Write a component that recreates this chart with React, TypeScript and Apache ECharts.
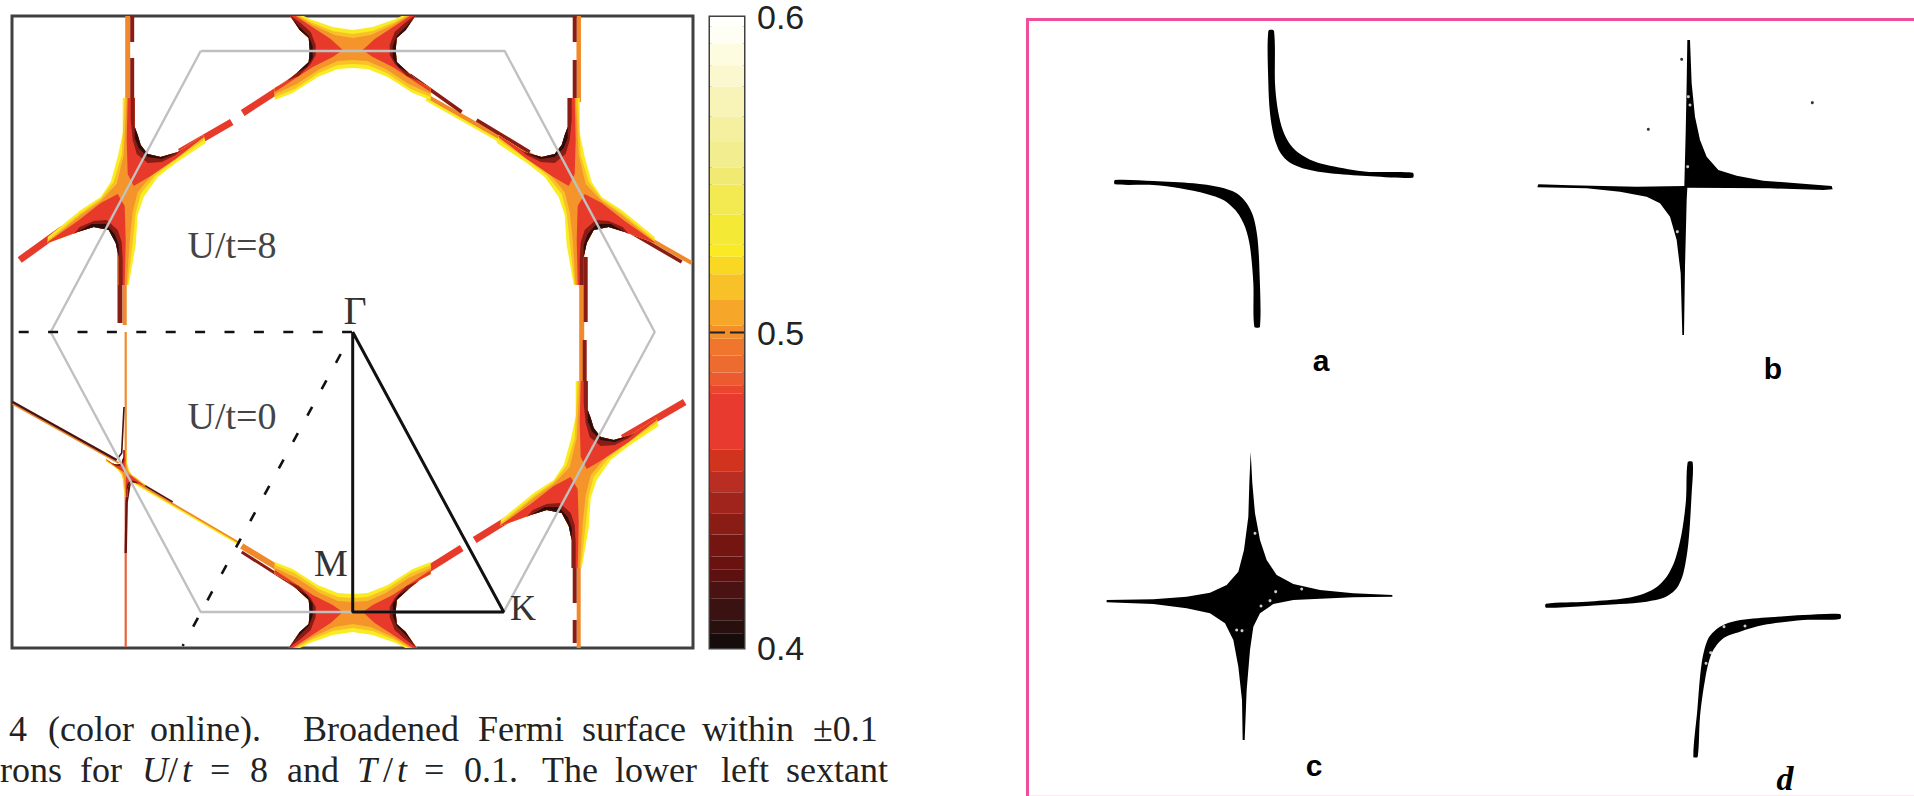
import React, { useEffect, useLayoutEffect, useRef } from "react";
import * as echarts from "echarts";

type Pt = number[];
const YEL = "#f9ec22", GOLD = "#f8c128", ORG = "#f4942b", RED = "#e83a2a", DRK = "#8a1c16", BLK = "#2b0d0d";

// ---- colour scale levels: [lower edge, colour]
const barLevels: [number, string][] = [
  [0.4, "#170c0c"], [0.4047, "#2a0f0f"], [0.4088, "#3a1212"], [0.4156, "#4a1212"], [0.421, "#5c1010"],
  [0.425, "#6a1210"], [0.429, "#751512"], [0.436, "#8a1c16"], [0.4427, "#a0241c"], [0.4494, "#b92d22"],
  [0.456, "#d2331f"], [0.463, "#e93a30"], [0.4806, "#ea452f"], [0.4833, "#ec5b30"], [0.4873, "#ee6b30"],
  [0.4927, "#f0762e"], [0.498, "#f38f2b"], [0.5022, "#f6a72a"], [0.5103, "#f8c128"], [0.5185, "#f9d824"],
  [0.524, "#f9ea23"], [0.528, "#f4ea35"], [0.5374, "#f2ea50"], [0.5469, "#f1ea72"], [0.5523, "#f2ee90"],
  [0.5604, "#f5f0a0"], [0.5685, "#f8f4b8"], [0.578, "#fbf8d0"], [0.5847, "#fdfbe0"], [0.5915, "#fffef4"],
  [0.597, "#fffffb"],
];
const barTicks = [0.4, 0.5, 0.6];

// ---- k-space outlines (origin at Gamma)
const hexagon: Pt[] = [[-152, 281], [152, 281], [302, 0], [151, -280], [-152, -280], [-302, 0], [-152, 281]];
const wedgeSolid: Pt[] = [[0, 0], [0, -280], [151, -280], [0, 0]];
const dashedH: Pt[] = [[-334, 0], [0, 0]];
const dashedD: Pt[] = [[-12, -22], [-170, -314]];

// ---- blob at the zone-edge crossings (four-armed, tilted)
const crossYellow: Pt[] = [[-3, 92], [9, 92], [9, 63], [12, 55], [15, 45], [22, 36], [35, 33], [52, 38], [78, 55], [80, 47], [50, 27], [32, 13], [18, -7], [12, -25], [10, -55], [3, -95], [-7, -95], [-7, -67], [-10, -53], [-17, -40], [-32, -37], [-48, -42], [-78, -53], [-78, -47], [-45, -20], [-25, -7], [-15, 8], [-8, 33], [-3, 57]];
const crossGold: Pt[] = [[-1, 92], [9, 92], [9, 63], [12, 55], [15, 45], [22, 36], [35, 33], [52, 38], [78, 55], [78, 50], [48, 29], [30, 15], [15, -4], [10, -23], [7, -52], [2, -95], [-7, -95], [-7, -67], [-10, -53], [-17, -40], [-32, -37], [-48, -42], [-78, -53], [-78, -50], [-45, -23], [-25, -9], [-12, 8], [-4, 35]];
const crossOrange: Pt[] = [[1, 92], [9, 92], [9, 63], [12, 55], [15, 45], [22, 36], [35, 33], [52, 38], [78, 55], [78, 52], [46, 31], [28, 17], [12, -2], [7, -22], [4, -50], [1, -95], [-7, -95], [-7, -67], [-10, -53], [-17, -40], [-32, -37], [-48, -42], [-78, -53], [-78, -52], [-45, -25], [-25, -11], [-9, 6], [-2, 35]];
const crossRedA: Pt[] = [[2, 92], [9, 92], [9, 63], [12, 55], [15, 45], [22, 36], [35, 33], [52, 38], [78, 55], [78, 53], [50, 31], [25, 14], [8, 4], [2, 16], [1, 50]];
const crossRedB: Pt[] = [[-1, -95], [-7, -95], [-7, -67], [-10, -53], [-17, -40], [-32, -37], [-48, -42], [-78, -53], [-78, -52], [-48, -31], [-25, -13], [-8, -4], [-1, -16], [0, -50]];
const crossDarkA: Pt[] = [[5, 92], [9, 92], [9, 63], [12, 55], [15, 45], [22, 36], [35, 33], [52, 38], [56, 40], [50, 35], [36, 28], [22, 27], [11, 36], [7, 50], [5, 70]];
const crossDarkB: Pt[] = [[-3, -95], [-7, -95], [-7, -67], [-10, -53], [-17, -40], [-32, -37], [-48, -42], [-52, -44], [-46, -37], [-32, -31], [-19, -30], [-8, -40], [-4, -52], [-3, -70]];
const crossRimA: Pt[] = [[9, 63], [12, 55], [15, 45], [22, 36], [35, 33], [50, 37], [36, 31], [22, 33], [13, 42], [9, 52]];
const crossRimB: Pt[] = [[-7, -67], [-10, -53], [-17, -40], [-32, -37], [-48, -42], [-34, -34], [-20, -34], [-11, -44], [-7, -55]];

// ---- blob at the M points: right halves, upper edge then the notch then lower edge
const vanNotch: Pt[] = [[64, 36], [53, 20], [44, 12], [43, 0], [44, -12], [56, -23], [67, -32], [78, -38]];
const vanYellowR: Pt[] = [[0, 20], [20, 23], [43, 31], [72, 46], ...vanNotch, [78, -50], [60, -43], [35, -27], [15, -19], [0, -18]];
const vanGoldR: Pt[] = [[0, 16], [20, 19], [42, 28], [70, 44], ...vanNotch, [78, -47], [58, -39], [34, -23], [15, -15], [0, -14]];
const vanOrangeR: Pt[] = [[0, 12], [18, 15], [40, 25], [68, 42], ...vanNotch, [78, -44], [56, -34], [33, -19], [15, -11], [0, -10]];
const vanRedR: Pt[] = [[10, 0], [22, 11], [42, 24], [66, 40], ...vanNotch, [78, -42], [40, -17], [20, -7]];
const vanDarkR: Pt[] = [[64, 36], [53, 20], [44, 12], [43, 0], [44, -12], [56, -23], [66, -31], [54, -26], [42, -14], [37, -5], [37, 5], [42, 18], [52, 27]];
const vanRimR: Pt[] = [[60, 31], [53, 20], [44, 12], [43, 0], [44, -12], [56, -23], [46, -17], [40, -8], [40, 4], [44, 14], [54, 24]];

const mirrorWhole = (half: Pt[]): Pt[] => [...half, ...half.slice(1, -1).reverse().map(([x, y]) => [-x, y])];
const flipX = (pts: Pt[]): Pt[] => pts.map(([x, y]) => [-x, y]);

const crossLayers: [Pt[], string][] = [[crossYellow, YEL], [crossGold, GOLD], [crossOrange, ORG], [crossRedA, RED], [crossRedB, RED], [crossDarkA, DRK], [crossDarkB, DRK], [crossRimA, BLK], [crossRimB, BLK]];
const vanLayers: [Pt[], string][] = [
  [mirrorWhole(vanYellowR), YEL], [mirrorWhole(vanGoldR), GOLD], [mirrorWhole(vanOrangeR), ORG],
  [vanRedR, RED], [flipX(vanRedR), RED], [vanDarkR, DRK], [flipX(vanDarkR), DRK], [vanRimR, BLK], [flipX(vanRimR), BLK],
];
// centre x, centre y, mirror x, mirror y, size
const crossPlaces = [[-227, 142, 1, 1, 1], [224, 142, -1, 1, 1], [226, -141, 1, 1, 1], [-227, -141, -1, 1, 0.25]];
const vanPlaces = [[0, 282, 1, 1, 1], [0, -280, 1, -1, 1]];

// ---- thin arms: points, colour, width
const strips: [Pt[], string, number][] = [
  [[[-225, 316], [-225, 230]], "#f0892a", 5],
  [[[-220.5, 316], [-220.5, 290]], DRK, 4],
  [[[-220.5, 274], [-220.5, 200]], DRK, 4],
  [[[-232.7, 80], [-232.7, 9]], DRK, 5],
  [[[-228, 80], [-228, 7]], "#f0892a", 4],
  [[[-173, 180], [-121, 210]], RED, 7],
  [[[-110, 219], [-56, 254]], RED, 7],
  [[[-290, 103], [-333, 72]], RED, 7],
  [[[226, 316], [226, 230]], "#f0892a", 4.5],
  [[[222, 316], [222, 290]], DRK, 4],
  [[[222, 272], [222, 200]], DRK, 4],
  [[[229, 90], [229, -60]], "#f0892a", 5],
  [[[233, 75], [233, 10]], DRK, 4],
  [[[232, -8], [232, -75]], DRK, 4],
  [[[226, -190], [226, -316]], "#f0892a", 4],
  [[[222, -205], [222, -271]], DRK, 4],
  [[[222, -288], [222, -311]], DRK, 4],
  [[[74, 234], [150, 191]], YEL, 6],
  [[[74, 236], [180, 176]], "#f0892a", 4],
  [[[57, 257], [109, 220]], DRK, 3.5],
  [[[124, 212], [177, 180]], DRK, 3.5],
  [[[274, 106], [339, 69]], "#f0892a", 4],
  [[[274, 102], [329, 70]], DRK, 3.5],
  [[[270, -106], [332, -70]], RED, 7],
  [[[175, -175], [122, -208]], RED, 7],
  [[[109, -216], [47, -255]], RED, 7],
  [[[-227, 0], [-227, -150]], "#f08a2a", 2.2],
  [[[-227, -150], [-227, -315]], "#e8623a", 2.2],
  [[[-228.7, -75], [-231, -121], [-234.7, -126]], "#4a1210", 1.6],
  [[[-340, -72], [-234, -131]], "#f0892a", 2],
  [[[-340, -70], [-236, -128]], "#4a1210", 2.4],
  [[[-219, -150], [-113, -212]], YEL, 3],
  [[[-219, -149], [-113, -211]], "#f0892a", 1.8],
  [[[-219, -147], [-180, -170]], "#5a1510", 1.6],
  [[[-223, -151], [-226, -170], [-227, -221]], "#6a1210", 2.4],
  [[[-111, -214], [-60, -245]], "#f0892a", 6],
  [[[-111, -220], [-56, -255]], DRK, 3],
];

// ---- right-hand panels, each in its own axis units
const panelA: Pt[][] = [
  [[745, 93], [745, 250], [750, 340], [762, 410], [782, 460], [810, 488], [860, 508], [930, 520], [1040, 528], [1178, 533], [1178, 518], [1040, 515], [930, 497], [880, 483], [835, 458], [805, 425], [785, 380], [772, 320], [765, 250], [762, 93]],
  [[285, 540], [400, 543], [520, 550], [600, 562], [650, 580], [680, 610], [700, 650], [712, 710], [718, 800], [720, 980], [703, 980], [700, 850], [690, 740], [675, 680], [650, 635], [610, 600], [560, 582], [480, 565], [400, 555], [285, 553]],
];
const panelB: Pt[][] = [
  [[652, 120], [660, 120], [665, 250], [675, 350], [690, 420], [710, 470], [745, 510], [800, 527], [880, 542], [980, 550], [1085, 558], [1088, 568], [1060, 570], [900, 565], [652, 563], [650, 600], [645, 800], [642, 1005], [637, 1005], [632, 820], [620, 720], [600, 650], [570, 610], [530, 590], [450, 575], [350, 565], [202, 562], [205, 553], [300, 556], [500, 560], [643, 558], [647, 400], [650, 250]],
];
const panelC: Pt[][] = [
  [[692, 155], [697, 250], [705, 340], [720, 420], [740, 480], [770, 525], [820, 552], [900, 570], [1000, 580], [1117, 585], [1117, 590], [1000, 592], [900, 596], [820, 600], [760, 612], [720, 640], [700, 680], [690, 750], [680, 870], [674, 1020], [668, 1020], [666, 900], [655, 800], [640, 720], [615, 670], [570, 640], [500, 625], [400, 612], [260, 607], [260, 600], [400, 598], [500, 590], [570, 578], [620, 555], [655, 515], [672, 450], [685, 350], [688, 250]],
];
const panelD: Pt[][] = [
  [[668, 187], [665, 280], [655, 430], [640, 520], [620, 565], [585, 592], [530, 605], [450, 612], [350, 618], [228, 623], [228, 611], [350, 605], [450, 597], [510, 585], [555, 565], [590, 530], [615, 480], [635, 400], [648, 300], [653, 187]],
  [[1110, 642], [1000, 645], [900, 652], [800, 662], [750, 680], [715, 715], [695, 790], [682, 930], [670, 1070], [683, 1070], [690, 950], [705, 840], [725, 760], [760, 715], [810, 695], [880, 675], [1000, 660], [1110, 657]],
];
const specksB: Pt[] = [[535, 388], [635, 178], [1027, 308]];
const holesB: Pt[] = [[660, 315], [622, 695], [655, 290], [653, 500]];
const holesC: Pt[] = [[767, 575], [750, 602], [723, 618], [650, 690], [666, 692], [845, 567], [705, 400]];
const holesD: Pt[] = [[825, 678], [722, 758], [762, 680], [708, 790]];

// ---- caption words: text, left edge
const captionOne: [string, number][] = [["4", 9], ["(color", 48], ["online).", 150], ["Broadened", 303], ["Fermi", 478], ["surface", 582], ["within", 702], ["±0.1", 813]];
const captionTwo: [string, number, boolean][] = [["rons", 0, false], ["for", 80, false], ["U", 142, true], ["/", 168, false], ["t", 182, true], ["=", 210, false], ["8", 250, false], ["and", 287, false], ["T", 357, true], ["/", 383, false], ["t", 397, true], ["=", 424, false], ["0.1.", 464, false], ["The", 542, false], ["lower", 615, false], ["left", 721, false], ["sextant", 786, false]];

function place(layers: [Pt[], string][], places: number[][]) {
  const out: { points: Pt[]; color: string }[] = [];
  places.forEach(([cx, cy, mx, my, k]) => {
    layers.forEach(([pts, color]) => {
      out.push({ points: pts.map(([x, y]) => [cx + x * mx * k, cy + y * my * k]), color });
    });
  });
  return out;
}

function polygons(polys: { points: Pt[]; color: string }[], idx: number, z: number, smooth = 0) {
  return {
    type: "custom",
    coordinateSystem: "cartesian2d",
    xAxisIndex: idx,
    yAxisIndex: idx,
    z,
    clip: true,
    silent: true,
    data: polys.map((p) => p.points[0]),
    renderItem: (params: any, api: any) => {
      const p = polys[params.dataIndex];
      return {
        type: "polygon",
        shape: { points: p.points.map((q) => api.coord(q)), smooth },
        style: { fill: p.color, stroke: null },
      };
    },
  };
}

function line(data: Pt[], color: string, width: number, idx: number, z: number, dash?: number[]) {
  return {
    type: "line",
    xAxisIndex: idx,
    yAxisIndex: idx,
    data,
    z,
    clip: true,
    silent: true,
    showSymbol: false,
    symbol: "none",
    lineStyle: { color, width, type: dash || "solid", cap: "butt" },
  };
}

function dots(data: Pt[], color: string, size: number, idx: number) {
  return {
    type: "scatter",
    xAxisIndex: idx,
    yAxisIndex: idx,
    data,
    z: 6,
    silent: true,
    symbolSize: size,
    itemStyle: { color },
  };
}

function hiddenAxis(min: number, max: number, gridIndex: number, inverse = false) {
  return { type: "value", show: false, gridIndex, min, max, inverse, splitLine: { show: false } };
}

function txt(text: string, x: number, y: number, fontSize: number, family: string, fill: string, extra: any = {}) {
  return {
    type: "text",
    z: 20,
    silent: true,
    style: { text, x, y, fontSize, fontFamily: family, fill, textAlign: "center", textVerticalAlign: "middle", ...extra },
  };
}

const SERIF = "Liberation Serif";
const SANS = "Liberation Sans";

export default function App() {
  const ref = useRef<HTMLDivElement>(null);
  useLayoutEffect(() => {
    document.body.style.margin = "0";
  }, []);
  useEffect(() => {
    const chart = echarts.init(ref.current!, undefined, { renderer: "svg" });
    const frame = { show: true, borderColor: "#404040", borderWidth: 3, backgroundColor: "transparent" };
    const barPolys = barLevels.map(([v, c], i) => {
      const top = i + 1 < barLevels.length ? barLevels[i + 1][0] : 0.6;
      return { points: [[0, v], [1, v], [1, top], [0, top]], color: c };
    });
    const black = (points: Pt[]) => ({ points, color: "#000000" });
    const series: any[] = [
      ...strips.map(([pts, c, w]) => line(pts, c, w, 0, 2)),
      polygons(place(crossLayers, crossPlaces), 0, 3),
      polygons(place(vanLayers, vanPlaces), 0, 3),
      line(hexagon, "#c0c0c0", 2.4, 0, 5),
      line(dashedH, "#111111", 2.6, 0, 6, [10, 19.4]),
      line(dashedD, "#111111", 2.6, 0, 6, [10, 20]),
      line(wedgeSolid, "#111111", 3, 0, 7),
      polygons(barPolys, 1, 2),
      line([[0, 0.5], [1, 0.5]], "#222222", 2, 1, 3, [15, 5]),
      polygons(panelA.map(black), 2, 3, 0.3),
      polygons(panelB.map(black), 3, 3),
      polygons(panelC.map(black), 4, 3),
      polygons(panelD.map(black), 5, 3, 0.3),
      dots(specksB, "#000000", 3, 3),
      dots(holesB, "#ffffff", 3, 3),
      dots(holesC, "#ffffff", 3, 4),
      dots(holesD, "#ffffff", 3, 5),
    ];
    chart.setOption({
      animation: false,
      backgroundColor: "#ffffff",
      tooltip: { show: false },
      grid: [
        { left: 12, top: 16, width: 681, height: 632, ...frame },
        { left: 710, top: 16, width: 34, height: 632, ...frame },
        { left: 1020, top: 0, width: 450, height: 400 },
        { left: 1470, top: 0, width: 444, height: 400 },
        { left: 1020, top: 400, width: 450, height: 396 },
        { left: 1470, top: 400, width: 444, height: 396 },
      ],
      xAxis: [
        hiddenAxis(-340.7, 340.3, 0),
        hiddenAxis(0, 1, 1),
        hiddenAxis(0, 1350, 2),
        hiddenAxis(0, 1332, 3),
        hiddenAxis(0, 1350, 4),
        hiddenAxis(0, 1332, 5),
      ],
      yAxis: [
        hiddenAxis(-316, 316, 0),
        {
          type: "value",
          gridIndex: 1,
          min: barTicks[0],
          max: barTicks[2],
          interval: 0.1,
          position: "right",
          axisLine: { show: false },
          axisTick: { show: false },
          splitLine: { show: false },
          axisLabel: {
            show: true,
            margin: 13,
            fontSize: 34,
            lineHeight: 28,
            padding: [2, 0, 0, 0],
            fontFamily: SANS,
            color: "#222222",
            formatter: (v: number) => v.toFixed(1),
          },
        },
        hiddenAxis(0, 1200, 2, true),
        hiddenAxis(0, 1200, 3, true),
        hiddenAxis(0, 1188, 4, true),
        hiddenAxis(0, 1188, 5, true),
      ],
      series,
      graphic: [
        { type: "polyline", z: 20, silent: true, shape: { points: [[1027.5, 796], [1027.5, 19.5], [1914, 19.5]] }, style: { stroke: "#ee4f9d", lineWidth: 3, fill: null } },
        { type: "line", z: 20, silent: true, shape: { x1: 1029, y1: 795.5, x2: 1914, y2: 795.5 }, style: { stroke: "#fbeaf3", lineWidth: 1 } },
        txt("U/t=8", 232, 245, 38, SERIF, "#444444"),
        txt("U/t=0", 232, 416, 38, SERIF, "#444444"),
        txt("Γ", 355, 310, 40, SERIF, "#333333"),
        txt("M", 331, 563, 38, SERIF, "#333333"),
        txt("K", 523, 608, 36, SERIF, "#333333"),
        ...captionOne.map(([w, x]) => txt(w, x, 729, 36, SERIF, "#222222", { textAlign: "left" })),
        ...captionTwo.map(([w, x, it]) => txt(w, x, 770, 36, SERIF, "#222222", { textAlign: "left", fontStyle: it ? "italic" : "normal" })),
        txt("a", 1321, 360, 30, SANS, "#000000", { fontWeight: "bold" }),
        txt("b", 1773, 368, 30, SANS, "#000000", { fontWeight: "bold" }),
        txt("c", 1314, 765, 30, SANS, "#000000", { fontWeight: "bold" }),
        txt("d", 1785, 778, 34, SERIF, "#000000", { fontWeight: "bold", fontStyle: "italic" }),
      ],
    });
    return () => chart.dispose();
  }, []);
  return <div ref={ref} style={{ width: 1914, height: 796 }} />;
}
